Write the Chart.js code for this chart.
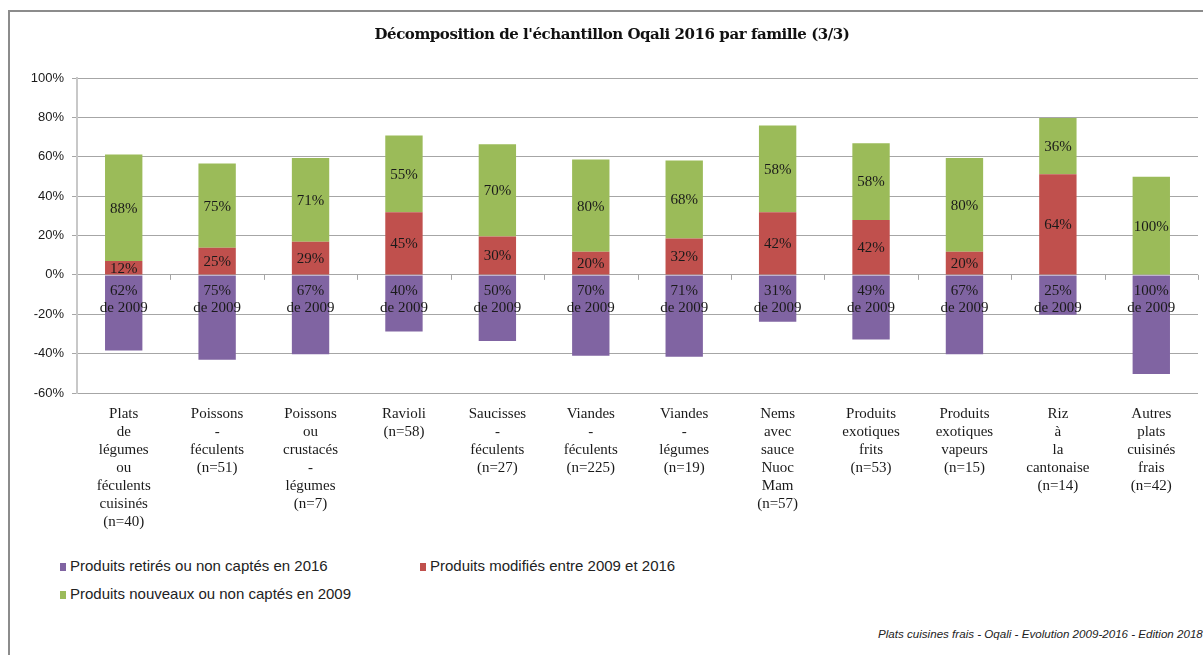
<!DOCTYPE html>
<html>
<head>
<meta charset="utf-8">
<script src="https://cdn.jsdelivr.net/npm/chart.js@4/dist/chart.umd.min.js"></script>
<style>
  body { margin: 0; background: #fff; }
  #wrap { position: relative; width: 1203px; height: 655px; overflow: hidden; }
  #frame { position: absolute; left: 8px; top: 10px; width: 1300px; height: 700px;
           border-left: 2px solid #8c8c8c; border-top: 2px solid #8c8c8c; }
  #titre { position: absolute; left: 0; top: 25px; width: 1224px; text-align: center;
           font: bold 15px "DejaVu Serif", serif; color: #111; letter-spacing: -0.45px; }
  #graph { position: absolute; left: 0; top: 0; }
  .leg { position: absolute; font: 15px "Liberation Sans", sans-serif; color: #222; }
  .leg span { display: inline-block; width: 6px; height: 8px; margin-right: 4px; }
  #source { position: absolute; left: 878px; top: 627px; white-space: nowrap;
            font: italic 11.6px "Liberation Sans", sans-serif; color: #222; }
</style>
</head>
<body>
<div id="wrap">
  <div id="frame"></div>
  <canvas id="graph" width="1203" height="543"></canvas>
  <div id="titre">Décomposition de l'échantillon Oqali 2016 par famille (3/3)</div>
  <div class="leg" style="left:60px;top:557px"><span style="background:#8064A2"></span>Produits retirés ou non captés en 2016</div>
  <div class="leg" style="left:420px;top:557px"><span style="background:#C0504D"></span>Produits modifiés entre 2009 et 2016</div>
  <div class="leg" style="left:60px;top:585px"><span style="background:#9BBB59"></span>Produits nouveaux ou non captés en 2009</div>
  <div id="source">Plats cuisines frais - Oqali - Evolution 2009-2016 - Edition 2018</div>
</div>
<script>
// familles (une ligne par mot, comme dans Excel)
var familles = [
    ["Plats", "de", "légumes", "ou", "féculents", "cuisinés", "(n=40)"],
    ["Poissons", "-", "féculents", "(n=51)"],
    ["Poissons", "ou", "crustacés", "-", "légumes", "(n=7)"],
    ["Ravioli", "(n=58)"],
    ["Saucisses", "-", "féculents", "(n=27)"],
    ["Viandes", "-", "féculents", "(n=225)"],
    ["Viandes", "-", "légumes", "(n=19)"],
    ["Nems", "avec", "sauce", "Nuoc", "Mam", "(n=57)"],
    ["Produits", "exotiques", "frits", "(n=53)"],
    ["Produits", "exotiques", "vapeurs", "(n=15)"],
    ["Riz", "à", "la", "cantonaise", "(n=14)"],
    ["Autres", "plats", "cuisinés", "frais", "(n=42)"]
];

// hauteurs des barres (en %)
var retires = [-38.4, -43.1, -40.3, -28.7, -33.6, -41.1, -41.6, -23.8, -32.8, -40.3, -20.2, -50.3];
var modifies = [7.1, 13.8, 16.8, 31.8, 19.5, 11.7, 18.5, 31.8, 27.9, 11.7, 51.1, 0];
var nouveaux = [54.0, 42.8, 42.6, 39.0, 46.9, 46.9, 39.6, 44.1, 39.0, 47.7, 28.6, 49.8];

// etiquettes affichees sur les barres
var lblRetires = ["62%", "75%", "67%", "40%", "50%", "70%", "71%", "31%", "49%", "67%", "25%", "100%"];
var lblModifies = ["12%", "25%", "29%", "45%", "30%", "20%", "32%", "42%", "42%", "20%", "64%", ""];
var lblNouveaux = ["88%", "75%", "71%", "55%", "70%", "80%", "68%", "58%", "58%", "80%", "36%", "100%"];

var yTicks = [-60, -40, -20, 0, 20, 40, 60, 80, 100];

var serif = '"Liberation Serif", serif';

// ecrit les etiquettes + petits traits sur l'axe a 0
var etiquettes = {
    id: "etiquettes",
    afterDatasetsDraw: function (chart) {
        var ctx = chart.ctx;
        var y0 = chart.scales.y.getPixelForValue(0);
        var area = chart.chartArea;
        ctx.save();
        // traits de graduation
        ctx.strokeStyle = "#a6a6a6";
        ctx.lineWidth = 1;
        var pas = (area.right - area.left) / familles.length;
        for (var k = 1; k <= familles.length; k++) {
            var xx = Math.round(area.left + k * pas) + 0.5;
            ctx.beginPath();
            ctx.moveTo(xx, y0);
            ctx.lineTo(xx, y0 + 5);
            ctx.stroke();
        }
        ctx.font = "15px " + serif;
        ctx.fillStyle = "#1a1a1a";
        ctx.textAlign = "center";
        ctx.textBaseline = "middle";
        var tabs = [lblRetires, lblModifies, lblNouveaux];
        chart.data.datasets.forEach(function (ds, d) {
            var meta = chart.getDatasetMeta(d);
            meta.data.forEach(function (bar, i) {
                var txt = tabs[d][i];
                if (!txt) return;
                if (d == 0) {
                    ctx.fillText(txt, bar.x, bar.base + 16);
                    ctx.fillText("de 2009", bar.x, bar.base + 33);
                } else {
                    ctx.fillText(txt, bar.x, (bar.y + bar.base) / 2 + 1);
                }
            });
        });
        ctx.restore();
    }
};

var ctx = document.getElementById("graph").getContext("2d");
var graphe = new Chart(ctx, {
    type: "bar",
    data: {
        labels: familles,
        datasets: [
            { label: "Produits retirés ou non captés en 2016", data: retires, backgroundColor: "#8064A2" },
            { label: "Produits modifiés entre 2009 et 2016", data: modifies, backgroundColor: "#C0504D" },
            { label: "Produits nouveaux ou non captés en 2009", data: nouveaux, backgroundColor: "#9BBB59" }
        ]
    },
    options: {
        responsive: false,
        animation: false,
        devicePixelRatio: 1,
        layout: { padding: { left: 10, right: 5, top: 78, bottom: 0 } },
        datasets: { bar: { barPercentage: 0.4, categoryPercentage: 1 } },
        plugins: {
            legend: { display: false },
            tooltip: { enabled: false },
            title: { display: false }
        },
        scales: {
            x: {
                stacked: true,
                grid: { display: false },
                border: { display: false },
                ticks: {
                    font: { family: serif, size: 15, lineHeight: 1.2 },
                    color: "#1a1a1a",
                    maxRotation: 0,
                    autoSkip: false,
                    padding: 4
                },
                afterFit: function (s) { s.height = 150; }
            },
            y: {
                stacked: true,
                min: -60,
                max: 100,
                afterBuildTicks: function (s) { s.ticks = yTicks.map(function (v) { return { value: v }; }); },
                afterFit: function (s) { s.width = 67; },
                grid: { color: "#a6a6a6", tickLength: 5 },
                border: { color: "#c8c8c8", width: 2 },
                ticks: {
                    font: { family: '"Liberation Sans", sans-serif', size: 13 },
                    color: "#1a1a1a",
                    padding: 8,
                    callback: function (v) { return v + "%"; }
                }
            }
        }
    },
    plugins: [etiquettes]
});
</script>
</body>
</html>
